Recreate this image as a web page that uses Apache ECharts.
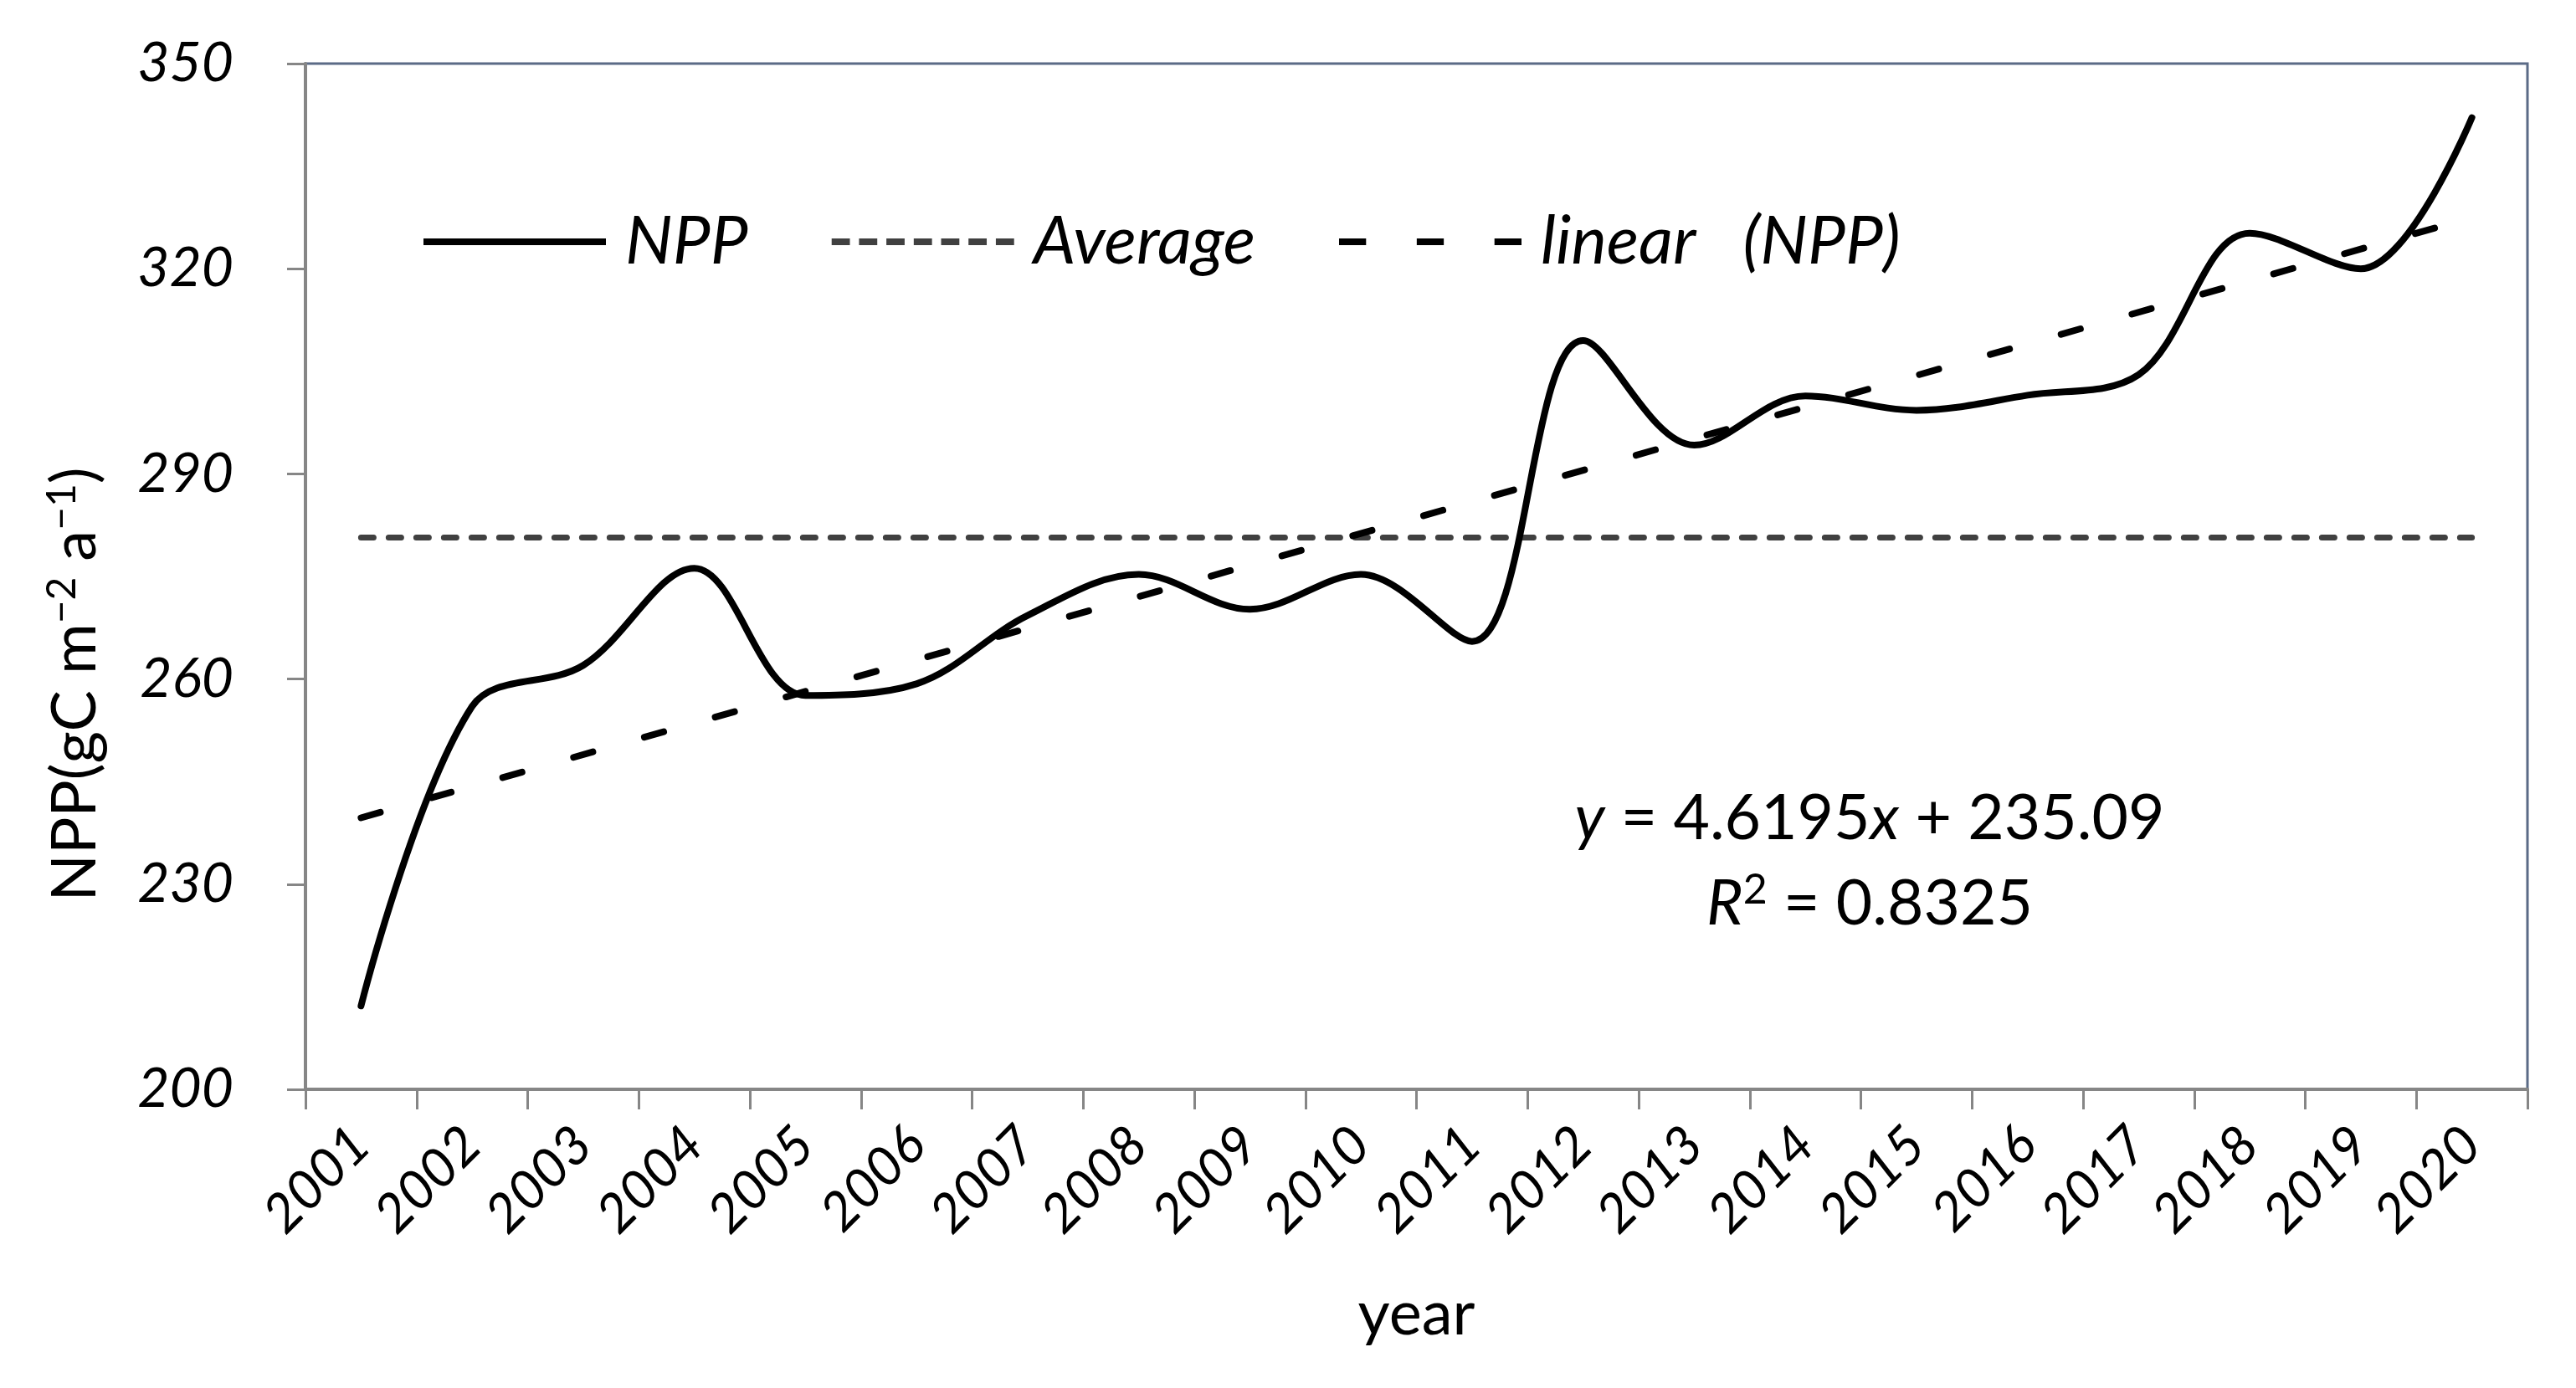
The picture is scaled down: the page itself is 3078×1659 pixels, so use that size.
<!DOCTYPE html>
<html>
<head>
<meta charset="utf-8">
<script src="https://cdn.jsdelivr.net/npm/echarts@6/dist/echarts.min.js"></script>
<style>
html,body{margin:0;padding:0;background:#fff;}
#main{width:3078px;height:1659px;}
</style>
</head>
<body>
<div id="main"></div>
<script>
// ---- data ----
const years = ['2001','2002','2003','2004','2005','2006','2007','2008','2009','2010',
               '2011','2012','2013','2014','2015','2016','2017','2018','2019','2020'];
const nppValues = [212.2, 256.0, 262.0, 276.2, 257.6, 259.3, 269.3, 275.3, 270.2, 275.3,
                   265.5, 309.5, 294.2, 301.4, 299.3, 301.5, 304.5, 325.2, 320.0, 342.1];
const averageValue = 280.7;
const trendStartValue = 239.7;   // linear trend at 2001
const trendEndValue = 327.5;     // linear trend at 2020
const yTicks = [200, 230, 260, 290, 320, 350];
const seriesNames = ['NPP', 'Average', 'linear   (NPP)'];
const equationLine1 = ['y', ' = 4.6195', 'x', ' + 235.09'];
const equationLine2 = ['R', '2', ' = 0.8325'];

const FONT = 'Lato';
const chart = echarts.init(document.getElementById('main'), null, {renderer: 'canvas'});

// legend icons (solid, short dashes, long dashes)
const iconSolid = 'path://M0,0H218V8H0Z';
let avgPath = 'path://';
for (let i = 0; i < 7; i++) { avgPath += 'M' + (i * 33) + ',0h22v8h-22z'; }
const iconLinear = 'path://M0,0h32v8h-32z M92,0h32v8h-32z M184,0h32v8h-32z';

const option = {
  backgroundColor: '#ffffff',
  animation: false,
  grid: {
    left: 365, right: 58, top: 76, bottom: 357,
    show: true, borderColor: '#5b6b86', borderWidth: 3, backgroundColor: 'transparent'
  },
  legend: {
    left: 501, top: 244,
    itemWidth: 218, itemHeight: 8,
    itemGap: 100,
    symbolKeepAspect: false,
    data: [
      {name: seriesNames[0], icon: iconSolid},
      {name: seriesNames[1], icon: avgPath},
      {name: seriesNames[2], icon: iconLinear}
    ],
    textStyle: {fontFamily: FONT, fontStyle: 'italic', fontSize: 80, lineHeight: 80, color: '#000',
                padding: [0, 0, 0, 18]}
  },
  xAxis: {
    type: 'category',
    data: years,
    boundaryGap: true,
    name: 'year',
    nameLocation: 'middle',
    nameGap: 232,
    nameTextStyle: {fontFamily: FONT, fontSize: 74, color: '#000'},
    axisLine: {show: true, lineStyle: {color: '#868686', width: 4}},
    axisTick: {show: true, length: 24, lineStyle: {color: '#868686', width: 3}},
    axisLabel: {fontFamily: FONT, fontStyle: 'italic', fontSize: 64, color: '#000',
                rotate: 45, margin: 56, interval: 0},
    splitLine: {show: false}
  },
  yAxis: {
    type: 'value',
    min: yTicks[0], max: yTicks[yTicks.length - 1], interval: yTicks[1] - yTicks[0],
    name: 'NPP(gC m{sup|−2} a{sup|−1})',
    nameLocation: 'middle',
    nameRotate: 90,
    nameGap: 236,
    nameTextStyle: {fontFamily: FONT, fontSize: 74, color: '#000', padding: [0, 258, 0, 0],
      rich: {sup: {fontFamily: FONT, fontSize: 48, color: '#000', verticalAlign: 'top', padding: [0, 0, 30, 0]}}},
    axisLine: {show: true, lineStyle: {color: '#868686', width: 4}},
    axisTick: {show: true, length: 22, lineStyle: {color: '#868686', width: 3}},
    axisLabel: {fontFamily: FONT, fontStyle: 'italic', fontSize: 66, color: '#000', margin: 86},
    splitLine: {show: false}
  },
  series: [
    {
      name: seriesNames[0], type: 'line', data: nppValues,
      smooth: 0.35, symbol: 'none', z: 5,
      lineStyle: {color: '#000', width: 8, cap: 'round'},
      itemStyle: {color: '#000'}
    },
    {
      name: seriesNames[1], type: 'line',
      data: [[years[0], averageValue], [years[years.length - 1], averageValue]],
      symbol: 'none', z: 3,
      lineStyle: {color: '#404040', width: 7, type: [15, 18], cap: 'round'},
      itemStyle: {color: '#404040'}
    },
    {
      name: seriesNames[2], type: 'line',
      data: [[years[0], trendStartValue], [years[years.length - 1], trendEndValue]],
      symbol: 'none', z: 4,
      lineStyle: {color: '#000', width: 8, type: [24, 64], cap: 'round'},
      itemStyle: {color: '#000'}
    }
  ],
  graphic: [
    {
      type: 'text',
      style: {
        text: '{i|' + equationLine1[0] + '}' + equationLine1[1] + '{i|' + equationLine1[2] + '}' + equationLine1[3],
        x: 2234, y: 979, align: 'center', verticalAlign: 'middle',
        fontFamily: FONT, fontSize: 75, fill: '#000',
        rich: {i: {fontFamily: FONT, fontStyle: 'italic', fontSize: 75, color: '#000'}}
      }
    },
    {
      type: 'text',
      style: {
        text: '{i|' + equationLine2[0] + '}{s|' + equationLine2[1] + '}' + equationLine2[2],
        x: 2234, y: 1081, align: 'center', verticalAlign: 'middle',
        fontFamily: FONT, fontSize: 75, fill: '#000',
        rich: {
          i: {fontFamily: FONT, fontStyle: 'italic', fontSize: 75, color: '#000'},
          s: {fontFamily: FONT, fontSize: 50, color: '#000', verticalAlign: 'top', padding: [0, 0, 34, 0]}
        }
      }
    }
  ]
};
chart.setOption(option);
</script>
</body>
</html>
